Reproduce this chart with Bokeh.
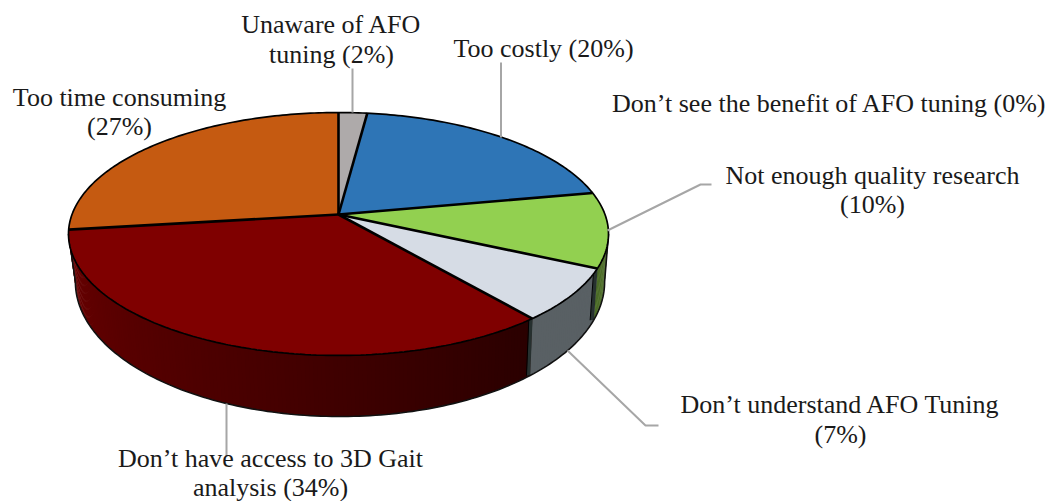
import numpy as np
from bokeh.embed import file_html
from bokeh.models import Range1d
from bokeh.plotting import figure
from bokeh.resources import INLINE
from bokeh.core.properties import value

# Survey answers, clockwise from twelve o'clock
categories = [
    "Unaware of AFO tuning",
    "Too costly",
    "Don\u2019t see the benefit of AFO tuning",
    "Not enough quality research",
    "Don\u2019t understand AFO Tuning",
    "Don\u2019t have access to 3D Gait analysis",
    "Too time consuming",
]
percentages = [2, 20, 0, 10, 7, 34, 27]
top_colors = ["#AEAAAA", "#2E75B6", "#ED7D31", "#92D050", "#D6DCE5", "#7F0000", "#C55A11"]
wall_colors = ["#6e6c6c", "#1d4a73", "#964f1f", "#4b6b27", "#596064", "#5a0000", "#7d390b"]

# Label lines, one text per row
label_text = [
    "Unaware of AFO", "tuning (2%)", "Too costly (20%)",
    "Don\u2019t see the benefit of AFO tuning (0%)",
    "Not enough quality research", "(10%)",
    "Don\u2019t understand AFO Tuning", "(7%)",
    "Don\u2019t have access to 3D Gait", "analysis (34%)",
    "Too time consuming", "(27%)",
]
label_x = [331, 331, 543, 829, 872, 872, 840, 840, 270, 270, 119, 119]
label_y = [24, 54, 48, 103, 175, 204, 404, 434, 458, 487, 97, 126]

# Leader lines from the rim to the labels
leader_x = [[352, 352], [500.5, 500.5], [607, 700, 711], [567, 645, 658], [226, 226]]
leader_y = [[112, 68], [137, 62], [230, 184, 184], [350, 425, 425], [403, 456]]

# Perspective of the disc: the near side is drawn larger than the far side
CX, CY = 338.0, 214.0
RADIUS, TILT, PULL = 266.5, 0.1605, -84.0


def top_point(deg):
    t = np.radians(deg)
    u, v = np.sin(t), np.cos(t)
    w = 1 + TILT * v
    return CX + RADIUS * u / w, (PULL * v + CY) / w


def bottom_point(deg):
    x, y = top_point(deg)
    return 339.5 + (x - CX) * 0.98, 259.8 + (y - CY) * 1.108


def arc(fn, a, b, step=1.0):
    n = max(int(abs(b - a) / step), 1) + 1
    return fn(np.linspace(a, b, n))


p = figure(
    width=1056, height=501, output_backend="svg", toolbar_location=None,
    x_range=Range1d(0, 1056), y_range=Range1d(501, 0),
    min_border=0, outline_line_color=None, background_fill_color="white",
)
p.axis.visible = False
p.grid.visible = False

edges = np.concatenate([[0], np.cumsum(percentages)]) * 3.6
RIGHT_SIL, LEFT_SIL = 99.2, 260.8


def mix(c1, c2, f):
    a = [int(c1[i:i + 2], 16) for i in (1, 3, 5)]
    b = [int(c2[i:i + 2], 16) for i in (1, 3, 5)]
    return "#%02x%02x%02x" % tuple(int(round(a[k] + (b[k] - a[k]) * f)) for k in range(3))


# Outer wall, cut into narrow strips so the red sector can carry its shading
xs, ys, fills = [], [], []
for i, pct in enumerate(percentages):
    a, b = max(edges[i], RIGHT_SIL), min(edges[i + 1], LEFT_SIL)
    if pct == 0 or b <= a:
        continue
    cuts = np.arange(a, b, 0.75).tolist() + [b]
    for s, e in zip(cuts[:-1], cuts[1:]):
        e2 = min(e + 0.5, b)
        tx, ty = arc(top_point, s, e2, 0.25)
        bx, by = arc(bottom_point, s, e2, 0.25)
        xs.append(np.concatenate([tx, bx[::-1]]).tolist())
        ys.append(np.concatenate([ty, by[::-1]]).tolist())
        if categories[i].endswith("analysis"):
            fills.append(mix("#2a0000", "#6b0000", (s - a) / (b - a)))
        else:
            fills.append(wall_colors[i])
p.patches(xs, ys, fill_color=fills, line_color=None)

# Cut faces showing between neighbouring wall sectors
for i, pct in enumerate(percentages):
    if pct and categories[i].startswith(("Don\u2019t understand", "Don\u2019t have")):
        tx, ty = top_point(edges[i])
        bx, by = bottom_point(edges[i])
        p.line([tx - 1.5, bx - 1.5], [ty, by], line_color="#26302f", line_width=3.5)
        p.line([tx - 3.5, bx - 3.5], [ty, by], line_color="black", line_width=1)

# Silhouette of the wall
bx, by = arc(bottom_point, RIGHT_SIL, LEFT_SIL)
tlx, tly = top_point(LEFT_SIL)
trx, try_ = top_point(RIGHT_SIL)
p.line([trx] + bx.tolist() + [tlx], [try_] + by.tolist() + [tly],
       line_color="#111111", line_width=1.6)

# Top face
for i, pct in enumerate(percentages):
    if pct == 0:
        continue
    ax, ay = arc(top_point, edges[i], edges[i + 1])
    p.patch([CX] + ax.tolist(), [CY] + ay.tolist(), fill_color=top_colors[i], line_color=None)

rx, ry = arc(top_point, 0, 360)
p.line(rx, ry, line_color="black", line_width=1.7)
for i, pct in enumerate(percentages):
    if pct == 0:
        continue
    ex, ey = top_point(edges[i])
    p.line([CX, ex], [CY, ey], line_color="black", line_width=2.6)

# Leaders
p.multi_line(leader_x, leader_y, line_color="#a6a6a6", line_width=2)

# Labels
p.text(label_x, label_y, text=label_text, text_font=value("Liberation Serif"),
       text_font_size="26px", text_color="#1a1a1a", text_align="center",
       text_baseline="middle")

open("out.html", "w").write(file_html(p, INLINE))
